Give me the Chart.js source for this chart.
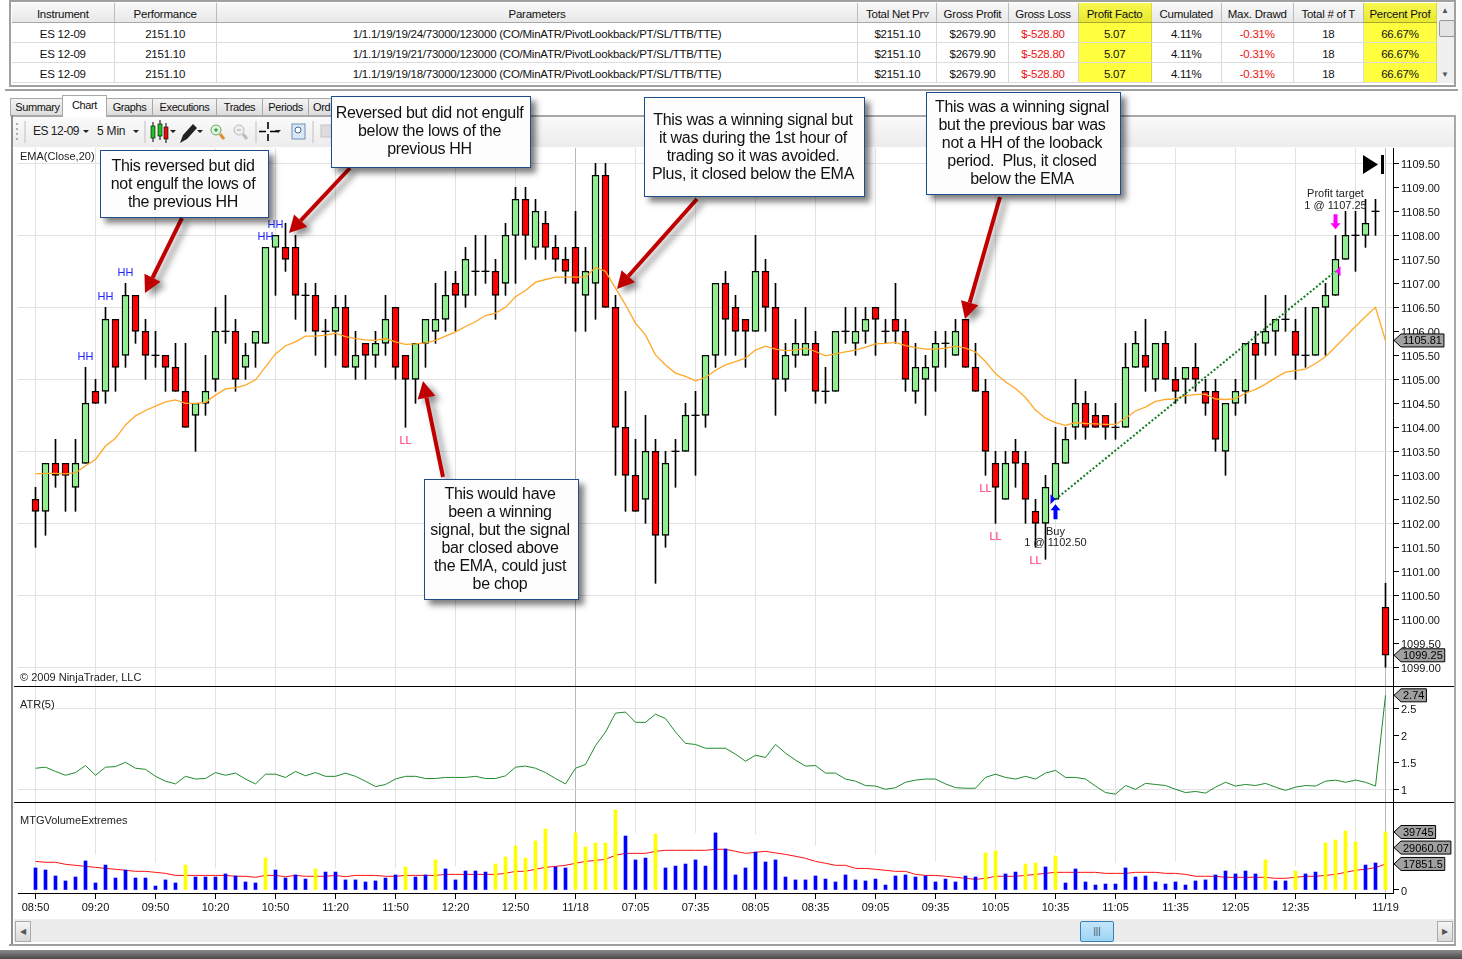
<!DOCTYPE html>
<html>
<head>
<meta charset="utf-8">
<title>ES 12-09 strategy chart</title>
<script src="https://cdn.jsdelivr.net/npm/chart.js@4/dist/chart.umd.min.js"></script>
<style>
  html, body { margin: 0; padding: 0; background: #fff; overflow: hidden; }
  body { width: 1462px; height: 959px; position: relative; font: 11px "Liberation Sans", Arial, sans-serif; color: #111; }
  .abs { position: absolute; }
  canvas { position: absolute; left: 0; display: block; }

  #results { position: absolute; left: 12px; top: 3px; border-collapse: collapse; table-layout: fixed; width: 1425px; font-size: 11.5px; letter-spacing: -0.25px; }
  #results th, #results td { height: 17px; padding: 2px 0 0; text-align: center; border-right: 1px solid #d8d8d8; border-bottom: 1px solid #dcdcdc; white-space: nowrap; overflow: hidden; font-weight: normal; }
  #results th { background: linear-gradient(#f8f8f8, #e8e8e8); border-bottom: 1px solid #a8a8a8; border-right: 1px solid #bbb; }
  #results .hi { background: #ffff40; border-right: 1px solid #d8d840; }
  #results th.hi { background: linear-gradient(#f8f850, #e8e830); border-bottom: 1px solid #a8a830; }
  #results .neg { color: #f01010; }

  .tab { position: absolute; top: 98px; height: 17px; line-height: 17px; text-align: center; font-size: 11px; letter-spacing: -0.4px; background: linear-gradient(#f4f4f4, #dcdcdc); border: 1px solid #a8a8a8; border-bottom: none; box-sizing: content-box; }
  .tab.on { top: 95px; height: 21px; line-height: 19px; background: #fff; z-index: 2; }

  .note { position: absolute; box-sizing: border-box; background: #fdfdfd; border: 1.5px solid #1f4e86; box-shadow: 5px 5px 6px rgba(0,0,0,.5); color: #111; font-size: 16px; line-height: 18px; text-align: center; letter-spacing: -0.3px; white-space: pre; padding-right: 3px; z-index: 6; }
  .lbl { position: absolute; font-size: 11px; color: #222; white-space: nowrap; z-index: 4; }
  .rule { position: absolute; background: #000; height: 1px; left: 14px; width: 1440px; z-index: 4; }
  .bar { position: absolute; background: #a0a0a0; }
</style>
</head>
<body>

<div class="bar" style="left:9px;top:0;width:1446px;height:2px;"></div>
<div class="bar" style="left:9px;top:0;width:2px;height:86px;"></div>
<div class="bar" style="left:1454px;top:0;width:2px;height:86px;"></div>
<div class="bar" style="left:9px;top:85px;width:1447px;height:2px;"></div>
<div class="bar" style="left:5px;top:89px;width:1453px;height:2px;"></div>

<table id="results">
  <colgroup>
    <col style="width:102px"><col style="width:102px"><col style="width:641px"><col style="width:79px"><col style="width:71px">
    <col style="width:70px"><col style="width:73px"><col style="width:70px"><col style="width:72px"><col style="width:70px"><col style="width:73px">
  </colgroup>
  <thead></thead>
  <tbody></tbody>
</table>
<div class="abs" style="left:1437px;top:3px;width:17px;height:80px;background:#f0f0f0;"></div>
<div class="abs" style="left:1439px;top:20px;width:14px;height:15px;background:#e4e4e4;border:1px solid #999;border-radius:2px;"></div>
<div class="abs" style="left:1441px;top:6px;font-size:8px;color:#555;">&#9650;</div>
<div class="abs" style="left:1441px;top:70px;font-size:8px;color:#555;">&#9660;</div>

<div class="tab" style="left:10px;width:53px;">Summary</div>
<div class="tab on" style="left:62px;width:43px;">Chart</div>
<div class="tab" style="left:106px;width:45px;">Graphs</div>
<div class="tab" style="left:152px;width:63px;">Executions</div>
<div class="tab" style="left:216px;width:45px;">Trades</div>
<div class="tab" style="left:262px;width:45px;">Periods</div>
<div class="tab" style="left:308px;width:30px;text-align:left;padding-left:4px;">Ord</div>

<div class="bar" style="left:11px;top:115px;width:1445px;height:2px;background:#a8a8a8;"></div>
<div class="bar" style="left:11px;top:115px;width:2px;height:830px;background:#8c8c8c;"></div>
<div class="bar" style="left:1454px;top:115px;width:2px;height:830px;background:#a8a8a8;"></div>

<div class="abs" style="left:13px;top:117px;width:1441px;height:30px;background:linear-gradient(#fafafa,#ececec);"></div>
<svg class="abs" style="left:13px;top:117px;" width="330" height="30" viewBox="0 0 330 30">
  <g fill="#b0b0b0"><rect x="3" y="6" width="2" height="2"/><rect x="3" y="11" width="2" height="2"/><rect x="3" y="16" width="2" height="2"/><rect x="3" y="21" width="2" height="2"/></g>
  <line x1="12" y1="4" x2="12" y2="26" stroke="#c0c0c0"/>
  <path d="M70 13h6l-3 3z M120 13h6l-3 3z M157 13h6l-3 3z M184 13h6l-3 3z M262 13h6l-3 3z" fill="#222"/>
  <line x1="132" y1="4" x2="132" y2="26" stroke="#c0c0c0"/>
  <g stroke="#000"><line x1="140" y1="5" x2="140" y2="25"/><line x1="147" y1="3" x2="147" y2="23"/><line x1="153" y1="6" x2="153" y2="26"/></g>
  <rect x="138" y="9" width="4" height="12" fill="#1fc41f" stroke="#000" stroke-width=".6"/>
  <rect x="145" y="7" width="4" height="12" fill="#1fc41f" stroke="#000" stroke-width=".6"/>
  <rect x="151" y="10" width="4" height="12" fill="#e01010" stroke="#000" stroke-width=".6"/>
  <path d="M167 26 l3-8 10-11 4 4-10 11z" fill="#222"/>
  <circle cx="203" cy="13" r="5" fill="#dff5df" stroke="#6aa86a"/><path d="M201 13h4M203 11v4" stroke="#1a8a1a"/><line x1="207" y1="17" x2="211" y2="22" stroke="#e09030" stroke-width="3"/>
  <circle cx="226" cy="13" r="5" fill="#eee" stroke="#bbb"/><path d="M224 13h4" stroke="#aaa"/><line x1="230" y1="17" x2="234" y2="22" stroke="#bbb" stroke-width="3"/>
  <line x1="243" y1="4" x2="243" y2="26" stroke="#c0c0c0"/>
  <path d="M255 5v7M255 17v7M246 14.5h7M257 14.5h7" stroke="#000" stroke-width="1.6"/>
  <rect x="279" y="7" width="13" height="15" fill="#d8e8f8" stroke="#6f8fb0"/><circle cx="285" cy="13" r="3" fill="#fff" stroke="#4a6a90"/>
  <line x1="300" y1="4" x2="300" y2="26" stroke="#c0c0c0"/>
  <rect x="308" y="8" width="12" height="12" fill="#ddd" stroke="#c4c4c4"/>
</svg>
<div class="lbl" style="left:33px;top:124px;font-size:12px;letter-spacing:-.5px;">ES 12-09</div>
<div class="lbl" style="left:97px;top:124px;font-size:12px;letter-spacing:-.2px;">5 Min</div>

<canvas id="priceChart" width="1456" height="538" style="top:148px;"></canvas>
<canvas id="atrChart" width="1456" height="115" style="top:687px;"></canvas>
<canvas id="volumeChart" width="1456" height="116" style="top:802px;"></canvas>

<div class="rule" style="top:686px;"></div>
<div class="rule" style="top:802px;"></div>

<div class="lbl" style="left:20px;top:150px;">EMA(Close,20)</div>
<div class="lbl" style="left:20px;top:671px;">&copy; 2009 NinjaTrader, LLC</div>
<div class="lbl" style="left:20px;top:698px;">ATR(5)</div>
<div class="lbl" style="left:20px;top:814px;">MTGVolumeExtremes</div>

<svg class="abs" style="left:1362px;top:154px;z-index:4;" width="24" height="22" viewBox="0 0 24 22">
  <path d="M1 1 L16 10.5 L1 20z" fill="#000"/><rect x="19" y="1" width="3" height="19" fill="#000"/>
</svg>

<div class="note" style="left:100px;top:150px;width:169px;height:68px;padding-top:6px;">This reversed but did
not engulf the lows of
the previous HH</div>
<div class="note" style="left:331px;top:96px;width:200px;height:72px;padding-top:7px;">Reversed but did not engulf
below the lows of the
previous HH</div>
<div class="note" style="left:644px;top:97px;width:221px;height:100px;padding-top:13px;">This was a winning signal but
it was during the 1st hour of
trading so it was avoided.
Plus, it closed below the EMA</div>
<div class="note" style="left:926px;top:92px;width:195px;height:103px;padding-top:5px;">This was a winning signal
but the previous bar was
not a HH of the looback
period.  Plus, it closed
below the EMA</div>
<div class="note" style="left:424px;top:479px;width:155px;height:121px;padding-top:5px;">This would have
been a winning
signal, but the signal
bar closed above
the EMA, could just
be chop</div>

<svg id="arrows" class="abs" style="left:0;top:0;z-index:5;overflow:visible;" width="1462" height="959"></svg>

<div class="abs" style="left:14px;top:919px;width:1440px;height:23px;background:#ececec;"></div>
<div class="abs" style="left:15px;top:921px;width:14px;height:19px;background:linear-gradient(#f6f6f6,#d8d8d8);border:1px solid #aaa;color:#555;font-size:8px;line-height:19px;text-align:center;">&#9664;</div>
<div class="abs" style="left:1437px;top:921px;width:14px;height:19px;background:linear-gradient(#f6f6f6,#d8d8d8);border:1px solid #aaa;color:#555;font-size:8px;line-height:19px;text-align:center;">&#9654;</div>
<div class="abs" style="left:1080px;top:921px;width:32px;height:19px;background:linear-gradient(#c4e6fa,#9cd4f4);border:1px solid #3c7fb1;border-radius:2px;color:#345;font-size:9px;line-height:19px;text-align:center;">|||</div>
<div class="bar" style="left:9px;top:944px;width:1447px;height:2px;"></div>
<div class="abs" style="left:0;top:950px;width:1462px;height:9px;background:linear-gradient(#8a8a8a,#4a4a4a);"></div>

<script>
// bar index 0 is 08:50 on 11/17, one bar every 5 minutes
const opens = [
  1102.5, 1102.25, 1103.25, 1103.25, 1102.75, 1103.25, 1104.75, 1104.75, 1106.25, 1105.5,
  1106.75, 1106, 1105.5, 1105.5, 1105.25, 1104.75, 1104.25, 1104.5, 1105, 1106,
  1106, 1105.25, 1105.75, 1105.75, 1107.75, 1107.75, 1107.75, 1106.75, 1106.75, 1106,
  1106, 1106.5, 1105.25, 1105.75, 1105.5, 1105.75, 1106.5, 1105.5, 1105, 1105.75,
  1106, 1106.25, 1107, 1106.75, 1107.25, 1107.25, 1107.25, 1107, 1108, 1108.75,
  1107.75, 1108.25, 1107.75, 1107.5, 1107.75, 1106.75, 1107, 1109.25, 1106.5, 1104,
  1103, 1102.5, 1103.5, 1101.75, 1103.5, 1103.5, 1104.25, 1104.25, 1105.5, 1107,
  1106.5, 1106.25, 1106, 1107.25, 1106.5, 1105, 1105.5, 1105.5, 1105.75, 1104.75,
  1104.75, 1106, 1105.75, 1106, 1106.5, 1106, 1106.25, 1106, 1104.75, 1105,
  1105.25, 1105.75, 1105.5, 1106.25, 1105.25, 1104.75, 1103.25, 1102.5, 1103.5, 1103.25,
  1102.25, 1102, 1102.5, 1103.25, 1104, 1104.5, 1104.25, 1104.25, 1104, 1104,
  1105.25, 1105.5, 1105, 1105.75, 1105, 1105, 1105.25, 1104.75, 1104.75, 1103.5,
  1104.5, 1104.75, 1105.75, 1105.75, 1106, 1106.25, 1106, 1105.5, 1105.5, 1106.5,
  1106.75, 1107.5, 1108, 1108, 1108.5, 1100.25
];
const closes = [
  1102.25, 1103.25, 1103, 1103, 1103.25, 1104.5, 1104.5, 1106.25, 1105.25, 1106.75,
  1106, 1105.5, 1105.5, 1105.25, 1104.75, 1104, 1104.5, 1104.75, 1106, 1106,
  1105, 1105.5, 1106, 1107.75, 1108, 1107.5, 1106.75, 1106.75, 1106, 1106,
  1106.5, 1105.25, 1105.5, 1105.5, 1105.75, 1106.25, 1105.25, 1105, 1105.75, 1106.25,
  1106.25, 1106.75, 1106.75, 1107.5, 1107.25, 1107.25, 1106.75, 1108, 1108.75, 1108,
  1108.5, 1107.75, 1107.5, 1107.25, 1107, 1107.25, 1109.25, 1106.5, 1104, 1103,
  1102.25, 1103.5, 1101.75, 1103.25, 1103.5, 1104.25, 1104.25, 1105.5, 1107, 1106.25,
  1106, 1106, 1107.25, 1106.5, 1105, 1105.5, 1105.75, 1105.75, 1104.75, 1104.75,
  1106, 1106, 1106, 1106.25, 1106.25, 1106, 1106, 1105, 1105.25, 1105.25,
  1105.75, 1105.75, 1106, 1105.25, 1104.75, 1103.5, 1102.75, 1103.25, 1103.25, 1102.5,
  1102, 1102.75, 1103.25, 1103.75, 1104.5, 1104, 1104, 1104, 1104, 1105.25,
  1105.75, 1105.25, 1105.75, 1105, 1104.75, 1105.25, 1105, 1104.5, 1103.75, 1104.5,
  1104.75, 1105.75, 1105.5, 1106, 1106.25, 1106.25, 1105.5, 1105.5, 1106.5, 1106.75,
  1107.5, 1108, 1108, 1108.25, 1108.5, 1099.25
];
const highs = [
  1102.75, 1103.25, 1103.75, 1103.25, 1103.75, 1105.25, 1105, 1106.5, 1106.25, 1107,
  1106.75, 1106.25, 1106, 1105.5, 1105.75, 1105.75, 1104.5, 1105.5, 1106.5, 1106.75,
  1106.25, 1105.75, 1106, 1107.75, 1108, 1108.25, 1108, 1107, 1107, 1106.25,
  1106.75, 1106.75, 1106, 1105.75, 1106, 1106.75, 1106.5, 1105.5, 1105.75, 1106.25,
  1107, 1107.25, 1107.25, 1107.75, 1108, 1108, 1107.5, 1108.25, 1109, 1109,
  1108.75, 1108.5, 1108, 1107.75, 1108.5, 1107.75, 1109.5, 1109.5, 1106.75, 1104.75,
  1103.75, 1104.25, 1103.75, 1103.5, 1103.75, 1104.5, 1104.75, 1105.5, 1107, 1107.25,
  1106.75, 1106.25, 1108, 1107.5, 1107, 1105.75, 1106.25, 1106.5, 1106, 1105.25,
  1106, 1106.5, 1106.5, 1106.5, 1106.5, 1106.25, 1107, 1106.25, 1105.75, 1105.5,
  1106, 1106, 1106.25, 1106.25, 1105.75, 1105, 1103.5, 1103.5, 1103.75, 1103.5,
  1102.5, 1103, 1104, 1104, 1105, 1104.75, 1104.5, 1104.25, 1104.5, 1105.75,
  1106, 1106.25, 1105.75, 1106, 1105.25, 1105.25, 1105.75, 1105, 1105, 1104.5,
  1105, 1105.75, 1106, 1106.75, 1106.25, 1106.75, 1106.25, 1106.5, 1106.5, 1107,
  1108, 1108.5, 1108.5, 1108.75, 1108.75, 1100.75
];
const lows = [
  1101.5, 1101.75, 1102.75, 1102.25, 1102.25, 1103.25, 1104.5, 1104.5, 1104.75, 1105.25,
  1105.75, 1105, 1105.25, 1104.75, 1104.75, 1104, 1103.5, 1104.25, 1104.75, 1105.75,
  1104.75, 1105, 1105.25, 1105.75, 1106.75, 1107.25, 1106.25, 1106, 1105.5, 1105.25,
  1105.5, 1105.25, 1105, 1105, 1105.25, 1105.5, 1105, 1104, 1104.5, 1105.25,
  1105.75, 1106, 1106, 1106.5, 1106.75, 1107, 1106.25, 1106.75, 1107, 1107.5,
  1107.5, 1107.5, 1107.25, 1107, 1106, 1106, 1106.25, 1106.5, 1103, 1102.25,
  1102.25, 1102, 1100.75, 1101.5, 1102.75, 1103.5, 1103, 1104, 1105.25, 1105.5,
  1105.5, 1105.25, 1106, 1106, 1104.25, 1104.75, 1105.25, 1105.5, 1104.5, 1104.5,
  1104.75, 1105.75, 1105.5, 1105.75, 1105.5, 1105.75, 1105.75, 1104.75, 1104.5, 1104.25,
  1104.75, 1105.25, 1105.5, 1105.25, 1104.75, 1103, 1102, 1102.5, 1102.75, 1102,
  1101.5, 1101.25, 1102.5, 1103.25, 1103.75, 1103.75, 1104, 1103.75, 1103.75, 1104,
  1105.25, 1104.75, 1104.75, 1105, 1104.5, 1104.5, 1104.75, 1104.25, 1103.5, 1103,
  1104.25, 1104.5, 1105, 1105.5, 1105.5, 1106, 1105, 1105.25, 1105.5, 1105.5,
  1106.75, 1107.5, 1107.25, 1107.75, 1108, 1099
];
const emaValues = [
  1103.03, 1103.04, 1103.04, 1103.03, 1103.05, 1103.2, 1103.33, 1103.61, 1103.77, 1104.05,
  1104.24, 1104.35, 1104.44, 1104.53, 1104.57, 1104.5, 1104.5, 1104.52, 1104.67, 1104.8,
  1104.82, 1104.88, 1104.99, 1105.26, 1105.53, 1105.7, 1105.78, 1105.9, 1105.9, 1105.92,
  1105.96, 1105.89, 1105.85, 1105.82, 1105.81, 1105.85, 1105.78, 1105.73, 1105.74, 1105.76,
  1105.81, 1105.9, 1105.99, 1106.1, 1106.2, 1106.33, 1106.38, 1106.5, 1106.72, 1106.85,
  1107.02, 1107.08, 1107.13, 1107.13, 1107.13, 1107.13, 1107.33, 1107.25, 1106.9, 1106.55,
  1106.17, 1105.92, 1105.51, 1105.3, 1105.13, 1105.06, 1104.97, 1105.04, 1105.19, 1105.3,
  1105.37, 1105.44, 1105.61, 1105.69, 1105.63, 1105.6, 1105.61, 1105.65, 1105.58, 1105.49,
  1105.53, 1105.57, 1105.61, 1105.67, 1105.74, 1105.75, 1105.77, 1105.7, 1105.66, 1105.63,
  1105.63, 1105.65, 1105.69, 1105.65, 1105.57, 1105.37, 1105.12, 1104.95, 1104.81, 1104.62,
  1104.36, 1104.19, 1104.1, 1104.04, 1104.1, 1104.08, 1104.07, 1104.06, 1104.06, 1104.19,
  1104.34, 1104.42, 1104.54, 1104.58, 1104.6, 1104.66, 1104.68, 1104.69, 1104.59, 1104.58,
  1104.6, 1104.71, 1104.79, 1104.9, 1105.03, 1105.15, 1105.18, 1105.21, 1105.33, 1105.47,
  1105.68, 1105.89, 1106.1, 1106.31, 1106.5, 1105.81
];
const atrValues = [
  1.39, 1.41, 1.33, 1.26, 1.31, 1.44, 1.26, 1.41, 1.42, 1.5,
  1.39, 1.37, 1.24, 1.15, 1.1, 1.24, 1.19, 1.2, 1.31, 1.26,
  1.3, 1.19, 1.1, 1.28, 1.28, 1.22, 1.33, 1.25, 1.31, 1.24,
  1.24, 1.3, 1.24, 1.15, 1.05, 1.09, 1.19, 1.24, 1.24, 1.2,
  1.2, 1.22, 1.22, 1.22, 1.24, 1.2, 1.2, 1.25, 1.41, 1.43,
  1.39, 1.31, 1.2, 1.1, 1.39, 1.46, 1.81, 2.06, 2.41, 2.43,
  2.24, 2.24, 2.39, 2.31, 2.06, 1.85, 1.83, 1.76, 1.76, 1.76,
  1.65, 1.52, 1.63, 1.59, 1.83, 1.67, 1.54, 1.43, 1.44, 1.3,
  1.3, 1.19, 1.15, 1.07, 1.06, 1, 1.03, 1.13, 1.17, 1.19,
  1.19, 1.1, 1.03, 1.02, 1.02, 1.22, 1.28, 1.22, 1.19, 1.24,
  1.19, 1.3, 1.35, 1.22, 1.22, 1.19, 1.06, 0.94, 0.91, 1.07,
  1, 1.11, 1.09, 1.07, 1, 0.94, 0.96, 0.93, 1.04, 1.13,
  1.06, 1.09, 1.07, 1.11, 1.04, 0.98, 1.04, 1.07, 1.06, 1.15,
  1.17, 1.13, 1.17, 1.13, 1.06, 2.74
];
const volumes = [
  15100, 13700, 9600, 6200, 8900, 19900, 4800, 17100, 8200, 13700,
  8200, 8200, 2700, 6900, 4800, 17100, 8900, 8900, 8900, 11000,
  9600, 5500, 4800, 21900, 13700, 8200, 10300, 7500, 14400, 12300,
  12300, 6900, 6900, 5500, 6200, 8200, 10300, 15800, 8900, 10300,
  20600, 14400, 6900, 13000, 13000, 12300, 17800, 22600, 30100, 21900,
  33600, 41800, 15800, 15100, 39100, 29500, 32200, 32200, 54800, 37000,
  20600, 21900, 38400, 15100, 16400, 17800, 20600, 16400, 39100, 28100,
  10300, 15100, 26000, 19200, 20600, 8900, 6900, 6900, 9600, 7500,
  5500, 10300, 6900, 6200, 7500, 3400, 9600, 10300, 8900, 9600,
  5500, 7500, 5500, 9600, 8900, 25400, 26700, 11000, 12300, 17800,
  18500, 15800, 23300, 4800, 14400, 5500, 3400, 4100, 4100, 15100,
  8900, 9600, 5500, 4100, 5500, 3400, 6200, 6900, 10300, 13000,
  11000, 13000, 11000, 20600, 6200, 6200, 13000, 11000, 12300, 32200,
  34300, 40400, 32900, 17100, 18500, 39745
];
const volumeAverage = [
  19600, 19000, 19000, 17600, 16900, 16200, 15500, 14800, 14200, 13500,
  12800, 12800, 12100, 11400, 10000, 10000, 10000, 10000, 10000, 10000,
  9400, 9400, 8700, 10000, 10000, 9100, 10000, 9400, 9400, 9400,
  10000, 9100, 10000, 10000, 10000, 9400, 9400, 10000, 10000, 10000,
  10000, 10700, 10700, 10700, 10700, 10700, 10700, 11400, 12800, 12800,
  14200, 15500, 16200, 16900, 18300, 19600, 20300, 21000, 23800, 25100,
  25100, 25100, 26500, 27200, 27200, 27200, 27200, 27200, 27900, 27900,
  26500, 25100, 25800, 26500, 25400, 24400, 23100, 21700, 19600, 18300,
  16900, 16900, 14800, 14800, 14200, 13500, 12800, 12800, 10700, 10000,
  10000, 9400, 8700, 8000, 7300, 8000, 9400, 9400, 9400, 10000,
  10700, 11400, 12100, 12100, 12100, 12100, 12100, 11400, 11400, 11400,
  12100, 12100, 12100, 11400, 11400, 10700, 9400, 9400, 9400, 8700,
  8700, 8700, 8700, 8700, 8000, 8000, 8700, 9400, 9400, 10000,
  10700, 12100, 13500, 14200, 15300, 17851.5
];
// only seen where the white band cuts the vertical grid lines
const bandBars = [0, 6, 12, 18, 24, 30, 36, 42, 48, 54, 60, 66, 72, 78, 84, 90, 96, 102, 108, 114, 120, 126, 132, 135];
const bandValues = [27400, 24000, 18700, 14800, 14800, 14800, 14800, 16000, 25100, 32000, 38800, 38800, 37700, 30100, 24000, 19400, 27400, 25100, 18300, 19400, 13700, 16000, 27400, 29060.07];
const extremeBars = [15, 23, 28, 37, 40, 46, 47, 48, 49, 50, 51, 54, 55, 56, 57, 58, 62, 95, 96, 99, 100, 102, 123, 126, 129, 130, 131, 132, 135];

const tickBars = [0, 6, 12, 18, 24, 30, 36, 42, 48, 54, 60, 66, 72, 78, 84, 90, 96, 102, 108, 114, 120, 126, 132, 135];
const tickLabels = ['08:50', '09:20', '09:50', '10:20', '10:50', '11:20', '11:50', '12:20', '12:50', '11/18', '07:05', '07:35', '08:05', '08:35', '09:05', '09:35', '10:05', '10:35', '11:05', '11:35', '12:05', '12:35', '', '11/19'];
const sessionBars = [54, 135];

const priceTicks = [1099, 1099.5, 1100, 1100.5, 1101, 1101.5, 1102, 1102.5, 1103, 1103.5, 1104, 1104.5, 1105, 1105.5, 1106, 1106.5, 1107, 1107.5, 1108, 1108.5, 1109, 1109.5];
const priceGridLines = [1099, 1100.5, 1102, 1103.5, 1105, 1106.5, 1108, 1109.5];
const atrTicks = [1, 1.5, 2, 2.5];
const atrGridLines = [1, 2.5];

const hhBars = [5, 7, 9, 23, 24];
const llBars = [37, 95, 96, 100];
const tradeBars = [102, 130];
const tradePrices = [1102.5, 1107.25];
const tradeEntry = ['Buy', '1 @ 1102.50'];
const tradeExit = ['Profit target', '1 @ 1107.25'];

const tableHeader = ['Instrument', 'Performance', 'Parameters', 'Total Net Pr\u25BF', 'Gross Profit', 'Gross Loss', 'Profit Facto', 'Cumulated', 'Max. Drawd', 'Total # of T', 'Percent Prof'];
const tableParams = ['24', '21', '18'];

const FONT = '"Liberation Sans", Arial, sans-serif';
const UP = '#90EE90';
const DOWN = '#FF0000';

// results table
const results = document.getElementById('results');
results.tHead.innerHTML = '<tr>' + tableHeader.map((h, i) => `<th class="${i === 6 || i === 10 ? 'hi' : ''}">${h}</th>`).join('') + '</tr>';
results.tBodies[0].innerHTML = tableParams.map(p => `<tr>
  <td>ES 12-09</td><td>2151.10</td>
  <td>1/1.1/19/19/${p}/73000/123000 (CO/MinATR/PivotLookback/PT/SL/TTB/TTE)</td>
  <td>$2151.10</td><td>$2679.90</td><td class="neg">$-528.80</td><td class="hi">5.07</td>
  <td>4.11%</td><td class="neg">-0.31%</td><td>18</td><td class="hi">66.67%</td>
</tr>`).join('');

// callout arrows, page coordinates: tail x,y then tip x,y
const arrowLines = [
  [182, 218, 145, 293],
  [350, 168, 289, 233],
  [443, 477, 423, 381],
  [697, 199, 617, 289],
  [1000, 197, 965, 319]
];
const svg = document.getElementById('arrows');
svg.innerHTML = arrowLines.map(([x1, y1, x2, y2]) => {
  const len = Math.hypot(x2 - x1, y2 - y1);
  const ux = (x2 - x1) / len, uy = (y2 - y1) / len;
  const bx = x2 - ux * 17, by = y2 - uy * 17;
  const head = `${x2},${y2} ${bx - uy * 9},${by + ux * 9} ${bx + uy * 9},${by - ux * 9}`;
  return `<g style="filter:drop-shadow(5px 4px 3px rgba(0,0,0,.45))">
    <line x1="${x1}" y1="${y1}" x2="${bx}" y2="${by}" stroke="#c00000" stroke-width="4"/>
    <polygon points="${head}" fill="#c00000"/></g>`;
}).join('');

// grey value flags sitting on the right hand axis
function valueTags(tags) {
  return {
    id: 'valueTags',
    afterDraw(chart) {
      const { ctx, chartArea, scales } = chart;
      ctx.save();
      ctx.font = '11px ' + FONT;
      ctx.textBaseline = 'middle';
      tags.forEach(text => {
        const y = scales.y.getPixelForValue(Number(text));
        const left = chartArea.right + 1;
        const right = left + 9 + ctx.measureText(text).width + 2;
        ctx.beginPath();
        ctx.moveTo(left, y);
        ctx.lineTo(left + 7, y - 6.5);
        ctx.lineTo(right, y - 6.5);
        ctx.lineTo(right, y + 6.5);
        ctx.lineTo(left + 7, y + 6.5);
        ctx.closePath();
        ctx.fillStyle = '#a0a0a0';
        ctx.fill();
        ctx.strokeStyle = '#000';
        ctx.lineWidth = 1;
        ctx.stroke();
        ctx.fillStyle = '#000';
        ctx.textAlign = 'left';
        ctx.fillText(text, left + 9, y + 1);
      });
      ctx.restore();
    }
  };
}

// HH / LL pivots and the trade arrows
const tradeMarks = {
  id: 'tradeMarks',
  afterDatasetsDraw(chart) {
    const { ctx, scales } = chart;
    const px = i => scales.x.getPixelForValue(i);
    const py = v => scales.y.getPixelForValue(v);
    ctx.save();
    ctx.font = '11px ' + FONT;
    ctx.textAlign = 'center';
    ctx.textBaseline = 'middle';
    ctx.fillStyle = '#2222ff';
    hhBars.forEach(i => ctx.fillText('HH', px(i), py(highs[i]) - 10));
    ctx.fillStyle = '#ff2a7a';
    llBars.forEach(i => ctx.fillText('LL', px(i), py(lows[i]) + 13.5));

    const bx = px(tradeBars[0]), by = py(tradePrices[0]);
    ctx.fillStyle = '#0000ff';
    ctx.beginPath();
    ctx.moveTo(bx - 5, by - 5); ctx.lineTo(bx, by); ctx.lineTo(bx - 5, by + 5);
    ctx.fill();
    ctx.beginPath();
    ctx.moveTo(bx, by + 5); ctx.lineTo(bx + 5, by + 11); ctx.lineTo(bx + 2, by + 11); ctx.lineTo(bx + 2, by + 20);
    ctx.lineTo(bx - 2, by + 20); ctx.lineTo(bx - 2, by + 11); ctx.lineTo(bx - 5, by + 11);
    ctx.fill();

    const sx = px(tradeBars[1]), sy = py(tradePrices[1]);
    ctx.fillStyle = '#ff00ff';
    ctx.beginPath();
    ctx.moveTo(sx + 5, sy - 5); ctx.lineTo(sx, sy); ctx.lineTo(sx + 5, sy + 5);
    ctx.fill();
    ctx.beginPath();
    ctx.moveTo(sx, sy - 42); ctx.lineTo(sx + 5, sy - 48); ctx.lineTo(sx + 2, sy - 48); ctx.lineTo(sx + 2, sy - 57);
    ctx.lineTo(sx - 2, sy - 57); ctx.lineTo(sx - 2, sy - 48); ctx.lineTo(sx - 5, sy - 48);
    ctx.fill();

    ctx.fillStyle = '#222';
    ctx.fillText(tradeEntry[0], bx, by + 32.5);
    ctx.fillText(tradeEntry[1], bx, by + 44);
    ctx.fillText(tradeExit[0], sx, sy - 77);
    ctx.fillText(tradeExit[1], sx, sy - 65);
    ctx.restore();
  }
};

function xAxis(showLabels) {
  return {
    type: 'linear',
    offset: false,
    min: -1.75,
    max: 135.75,
    afterBuildTicks: scale => { scale.ticks = tickBars.map(value => ({ value })); },
    afterFit: scale => { scale.height = showLabels ? 25 : 0; scale.paddingLeft = 0; scale.paddingRight = 0; },
    border: { display: showLabels, color: '#000' },
    grid: {
      offset: false,
      drawTicks: showLabels,
      tickLength: 6,
      tickColor: '#000',
      color: ctx => (ctx.tick && sessionBars.includes(ctx.tick.value) ? '#b8b8b8' : '#e2e2e2')
    },
    ticks: {
      display: showLabels,
      autoSkip: false,
      maxRotation: 0,
      padding: 2,
      color: '#111',
      font: { family: FONT, size: 11 },
      callback: value => tickLabels[tickBars.indexOf(value)]
    }
  };
}

function yAxis(min, max, ticks, gridLines, format) {
  return {
    type: 'linear',
    position: 'right',
    min,
    max,
    afterBuildTicks: scale => { scale.ticks = ticks.map(value => ({ value })); },
    afterFit: scale => { scale.width = 63; scale.paddingTop = 0; scale.paddingBottom = 0; },
    border: { color: '#000' },
    grid: {
      tickLength: 6,
      tickColor: '#000',
      color: ctx => (ctx.tick && gridLines.includes(ctx.tick.value) ? '#e2e2e2' : 'transparent')
    },
    ticks: {
      padding: 2,
      color: '#111',
      // blank first line with a small line height nudges the label down to sit like the original
      font: { family: FONT, size: 11, lineHeight: '3px' },
      callback: v => ['', format(v)]
    }
  };
}

function baseOptions(scales) {
  return {
    responsive: false,
    animation: false,
    events: [],
    layout: { autoPadding: false, padding: { left: 18, top: 0, right: 0, bottom: 0 } },
    plugins: { legend: { display: false }, tooltip: { enabled: false } },
    scales
  };
}

const bars = opens.map((o, i) => i);
const bodyBars = bars.filter(i => opens[i] !== closes[i]);
const dojiBars = bars.filter(i => opens[i] === closes[i]);

new Chart(document.getElementById('priceChart'), {
  type: 'bar',
  data: {
    datasets: [
      {
        label: 'Wick',
        data: bars.map(i => ({ x: i, y: [lows[i], highs[i]] })),
        backgroundColor: '#000',
        barThickness: 1,
        grouped: false,
        order: 5
      },
      {
        label: 'Body',
        data: bodyBars.map(i => ({ x: i, y: [opens[i], closes[i]] })),
        backgroundColor: bodyBars.map(i => (closes[i] > opens[i] ? UP : DOWN)),
        borderColor: '#000',
        borderWidth: 1.3,
        borderSkipped: false,
        barThickness: 7,
        grouped: false,
        order: 4
      },
      {
        type: 'line',
        label: 'Doji',
        data: dojiBars.map(i => ({ x: i, y: closes[i] })),
        showLine: false,
        pointStyle: 'line',
        pointRadius: 4,
        pointBorderWidth: 1.3,
        borderColor: '#000',
        order: 3
      },
      {
        type: 'line',
        label: 'EMA(Close,20)',
        data: bars.map(i => ({ x: i, y: emaValues[i] })),
        borderColor: '#FFA826',
        borderWidth: 1.3,
        pointRadius: 0,
        tension: 0,
        order: 2
      },
      {
        type: 'line',
        label: 'Trade',
        data: tradeBars.map((b, i) => ({ x: b, y: tradePrices[i] })),
        borderColor: '#0f7a1e',
        borderWidth: 2,
        borderDash: [2, 2],
        pointRadius: 0,
        order: 1
      }
    ]
  },
  options: baseOptions({
    x: xAxis(false),
    y: yAxis(1098.61, 1109.82, priceTicks, priceGridLines, v => v.toFixed(2))
  }),
  plugins: [tradeMarks, valueTags(['1105.81', '1099.25'])]
});

new Chart(document.getElementById('atrChart'), {
  type: 'line',
  data: {
    datasets: [{
      label: 'ATR(5)',
      data: bars.map(i => ({ x: i, y: atrValues[i] })),
      borderColor: '#1f8a2a',
      borderWidth: 1,
      pointRadius: 0,
      tension: 0
    }]
  },
  options: baseOptions({
    x: xAxis(false),
    y: yAxis(0.765, 2.894, atrTicks, atrGridLines, v => String(v))
  }),
  plugins: [valueTags(['2.74'])]
});

new Chart(document.getElementById('volumeChart'), {
  type: 'bar',
  data: {
    datasets: [
      {
        label: 'MTGVolumeExtremes',
        data: bars.map(i => ({ x: i, y: volumes[i] })),
        backgroundColor: bars.map(i => (extremeBars.includes(i) ? '#FFFF00' : '#0000FF')),
        barThickness: 3,
        grouped: false,
        order: 3
      },
      {
        type: 'line',
        label: 'Average',
        data: bars.map(i => ({ x: i, y: volumeAverage[i] })),
        borderColor: '#FF1010',
        borderWidth: 1,
        pointRadius: 0,
        tension: 0,
        order: 4
      },
      {
        type: 'line',
        label: 'Band',
        data: bandBars.map((b, i) => ({ x: b, y: bandValues[i] })),
        borderColor: '#fff',
        backgroundColor: '#fff',
        borderWidth: 1,
        fill: 'start',
        pointRadius: 0,
        tension: 0,
        order: 5
      }
    ]
  },
  options: baseOptions({
    x: xAxis(true),
    y: yAxis(-2056, 60300, [0], [], v => String(v))
  }),
  plugins: [valueTags(['39745', '29060.07', '17851.5'])]
});
</script>
</body>
</html>
